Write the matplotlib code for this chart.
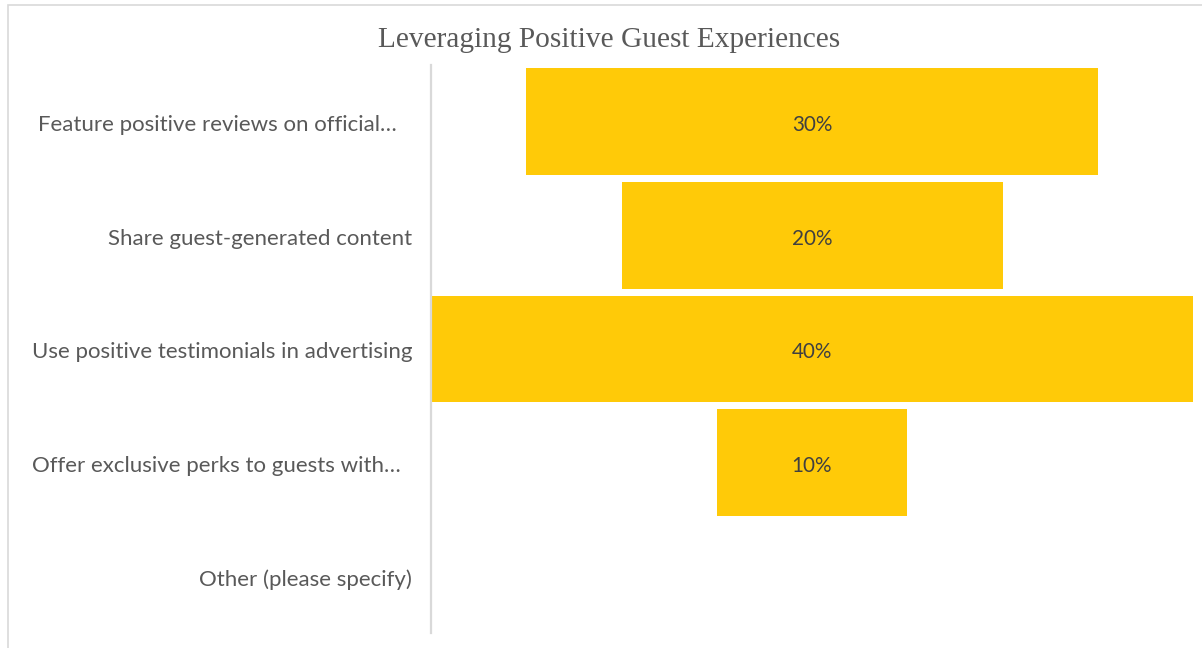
import matplotlib
matplotlib.use("Agg")
import matplotlib.pyplot as plt
import matplotlib.transforms as mtransforms
from matplotlib.patches import Rectangle

# ---- data ----
categories = [
    "Feature positive reviews on official\u2026",
    "Share guest-generated content",
    "Use positive testimonials in advertising",
    "Offer exclusive perks to guests with\u2026",
    "Other (please specify)",
]
values = [30, 20, 40, 10, 0]
value_labels = ["30%", "20%", "40%", "10%", ""]
title = "Leveraging Positive Guest Experiences"

# ---- style ----
W, H, DPI = 1202, 648, 100
BAR_COLOR = "#FFCA08"
LABEL_COLOR = "#595959"
VALUE_COLOR = "#404040"
LINE_COLOR = "#D9D9D9"
SANS = ["Lato", "DejaVu Sans"]
SERIF = ["Liberation Serif", "DejaVu Serif"]

fig = plt.figure(figsize=(W / DPI, H / DPI), dpi=DPI)
fig.patch.set_facecolor("white")
renderer = fig.canvas.get_renderer()


def fit_size(text, family, target_px, base=12.0):
    """Font size (pt) at which `text` spans target_px pixels."""
    t = fig.text(0, 0, text, fontsize=base, family=family)
    w = t.get_window_extent(renderer).width
    t.remove()
    return base * target_px / w


cat_size = fit_size(categories[2], SANS, 378)
val_size = fit_size("40%", SANS, 40.5)
title_size = fit_size(title, SERIF, 462)

# chart frame (light grey border running off the right and bottom edges)
fig.add_artist(Rectangle((7.5 / W, -0.2), 1.2, 1.2 - 4.5 / H,
                         transform=fig.transFigure, fill=False,
                         edgecolor=LINE_COLOR, linewidth=1.2, clip_on=False))

# plot area
ax = fig.add_axes([431 / W, 15 / H, 762 / W, 568 / H])
ax.set_facecolor("none")

vmax = max(values)
ypos = list(range(len(categories)))
lefts = [-v / 2 for v in values]
ax.barh(ypos, values, left=lefts, height=0.94, color=BAR_COLOR, edgecolor="none")

ax.set_xlim(-vmax / 2, vmax / 2)
ax.set_ylim(len(categories) - 0.5, -0.5)

# text sits a few pixels below the band centre
drop = mtransforms.ScaledTranslation(0, -3.5 / DPI, fig.dpi_scale_trans)

for y, v, lab in zip(ypos, values, value_labels):
    if lab:
        ax.text(0, y, lab, transform=ax.transData + drop, ha="center", va="center",
                fontsize=val_size, family=SANS, color=VALUE_COLOR)

# category labels, right-aligned left of the axis line
right_gap_px = [34, 19, 19, 30, 19]
for y, cat, gap in zip(ypos, categories, right_gap_px):
    tr = (ax.get_yaxis_transform()
          + mtransforms.ScaledTranslation(-gap / DPI, -3.5 / DPI, fig.dpi_scale_trans))
    ax.text(0, y, cat, transform=tr, ha="right", va="center",
            fontsize=cat_size, family=SANS, color=LABEL_COLOR)

ax.set_xticks([])
ax.set_yticks([])
for side in ("top", "right", "bottom"):
    ax.spines[side].set_visible(False)
ax.spines["left"].set_color(LINE_COLOR)
ax.spines["left"].set_linewidth(1.6)

fig.text(609 / W, 1 - 47 / H, title, ha="center", va="baseline",
         fontsize=title_size, family=SERIF, color=LABEL_COLOR)

fig.savefig("out.png", dpi=DPI, facecolor="white")
